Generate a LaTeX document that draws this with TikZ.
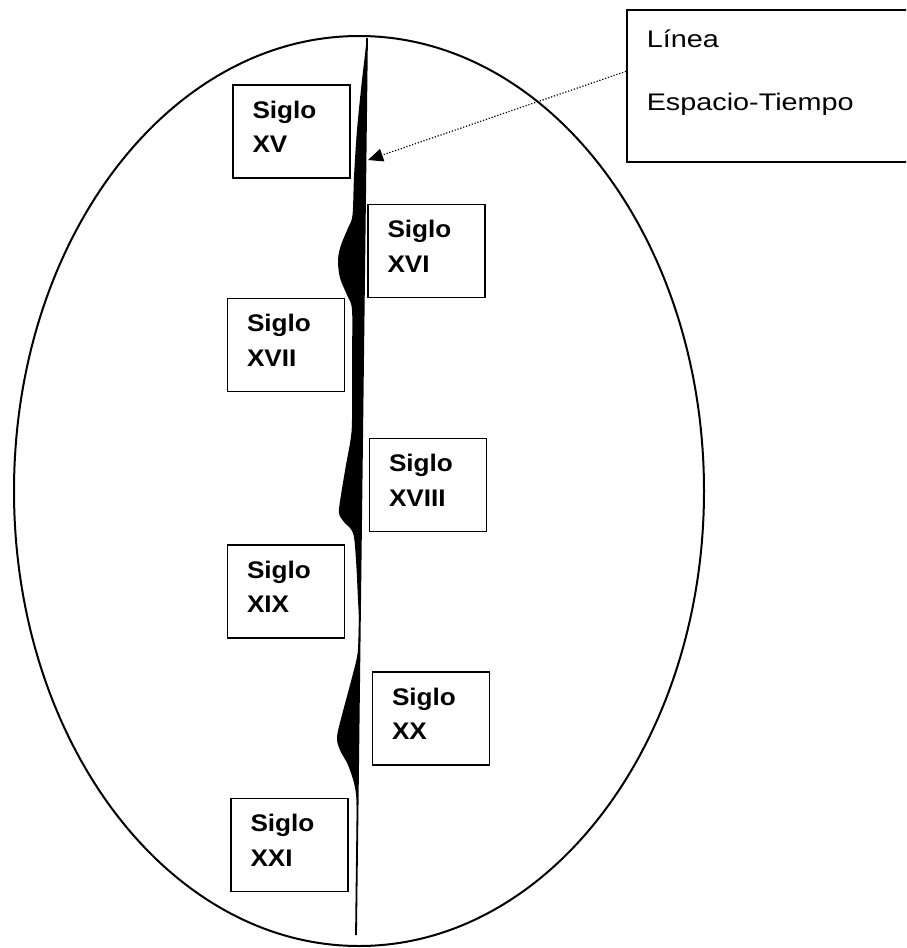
\documentclass[tikz,border=0pt]{standalone}
\usepackage{fontspec}
\setmainfont{Liberation Sans}[FakeStretch=1.2]
\newfontfamily\siglofont{Liberation Sans}[FakeStretch=1.09]
\usetikzlibrary{arrows.meta}

\tikzset{
	siglo/.style={draw, line width=0.75pt, align=left, text width=39pt,
		inner xsep=9.75pt, inner ysep=7.75pt, text height=9pt, text depth=22.1pt,
		font=\siglofont\bfseries\fontsize{12}{17.2}\selectfont},
	rotulo/.style={draw, line width=0.75pt, align=left, text width=150pt, anchor=north west,
		inner xsep=10pt, inner ysep=10pt, text height=9pt, text depth=47pt,
		font=\fontsize{12}{31.5}\selectfont},
	punteado/.style={line width=0.6pt, dash pattern=on 0.6pt off 0.9pt}
}

\begin{document}
\begin{tikzpicture}[x=0.5pt, y=-0.5pt]
			\useasboundingbox (0,0) rectangle (906,948);
			\clip (0,0) rectangle (906,948);
			% Elipse, linea espacio-tiempo y siglos:
			\draw[line width=1pt] (359,491) ellipse [x radius=345, y radius=455];
			\coordinate (linea arriba) at (367,38);
			\coordinate (linea abajo) at (356,935);
			\fill (linea arriba) -- plot[smooth, tension=0.55] coordinates {(367,38) (362,80) (357,130) (354,177) (352.5,215) (348,228) (341,245) (338,260) (340,278) (347,295) (352,310) (352,360) (352,420) (350.5,440) (346,465) (341,495) (339,513) (344,522) (353,533) (356,560) (358,600) (358.8,617) (358.4,640) (357,657) (350,685) (342,715) (337,737) (340,750) (348,765) (354,783) (356.5,800) (356.8,830) (356,935)} -- cycle;
			\draw[line width=0.9pt] (linea arriba) -- (linea abajo);
			\node[siglo] (xv) at (291.5,131.5) {Siglo\\XV};
			\node[siglo] (xvi) at (426.5,251) {Siglo\\XVI};
			\node[siglo] (xvii) at (286,345) {Siglo\\XVII};
			\node[siglo] (xviii) at (428,485) {Siglo\\XVIII};
			\node[siglo] (xix) at (286,591.5) {Siglo\\XIX};
			\node[siglo] (xx) at (431,718.5) {Siglo\\XX};
			\node[siglo] (xxi) at (289.5,845) {Siglo\\XXI};
			\node[rotulo] (rotulo) at (626,9) {Línea\\Espacio-Tiempo};
			\coordinate (punta) at (368,160);
			\draw[punteado, -{Triangle[length=7.5pt, width=6.5pt]}] ([yshift=7.2pt]rotulo.west) -- (punta);
		\end{tikzpicture}
\end{document}
